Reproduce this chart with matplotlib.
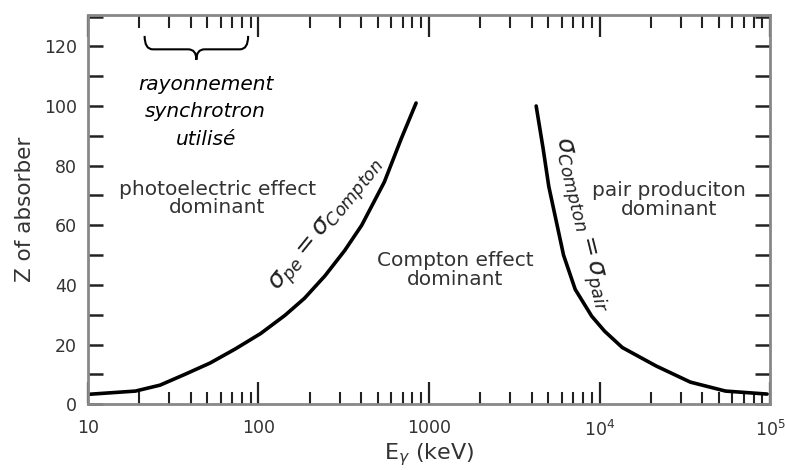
import numpy as np
import matplotlib.pyplot as plt
from matplotlib.path import Path
from matplotlib.patches import PathPatch
from matplotlib.transforms import blended_transform_factory
from matplotlib.ticker import FixedLocator, FixedFormatter, LogLocator, MultipleLocator

plt.rcParams['font.family'] = ['DejaVu Sans']
plt.rcParams['mathtext.fontset'] = 'dejavusans'

# boundary sigma_pe = sigma_Compton (energy in keV, Z)
pe_energy = [10, 19, 26.5, 37, 52, 73, 103, 143, 186, 245, 320, 403, 547, 687, 840]
pe_z = [3.3, 4.4, 6.4, 10, 13.8, 18.5, 23.7, 29.8, 35.5, 43, 51.5, 60, 74.5, 89, 101]

# boundary sigma_Compton = sigma_pair
pair_energy = [4250, 4660, 5040, 6150, 7200, 9000, 10700, 13600, 21500, 34100, 54800, 96000]
pair_z = [100, 86, 73, 50, 38.5, 29.5, 24.5, 19, 12.8, 7.4, 4.4, 3.4]

x_ticks = [10, 100, 1000, 1e4, 1e5]
x_ticklabels = ['10', '100', '1000', r'$10^4$', r'$10^5$']
y_ticks = [0, 20, 40, 60, 80, 100, 120]

# energy range used at the synchrotron (keV)
synchro_lo, synchro_hi = 21.5, 87

fig = plt.figure(figsize=(7.85, 4.7), dpi=100)
ax = fig.add_axes([0.112, 0.140, 0.869, 0.828])

ax.plot(pe_energy, pe_z, color='black', lw=2.6, solid_capstyle='round')
ax.plot(pair_energy, pair_z, color='black', lw=2.6, solid_capstyle='round')

ax.set_xscale('log')
ax.set_xlim(10, 1e5)
ax.set_ylim(0, 130.5)

ax.xaxis.set_major_locator(FixedLocator(x_ticks))
ax.xaxis.set_major_formatter(FixedFormatter(x_ticklabels))
ax.xaxis.set_minor_locator(LogLocator(base=10, subs=np.arange(2, 10)))
ax.yaxis.set_major_locator(FixedLocator(y_ticks))
ax.yaxis.set_minor_locator(MultipleLocator(10))

ax.tick_params(axis='x', which='major', direction='in', length=16, width=1.6,
               top=True, bottom=True, color='#222222', labelsize=12.5,
               labelcolor='#333333', pad=11)
ax.tick_params(axis='x', which='minor', direction='in', length=9, width=1.5,
               top=True, bottom=True, color='#222222')
ax.tick_params(axis='y', which='both', direction='in', length=11, width=1.8,
               left=True, right=True, color='#222222', labelsize=12.5,
               labelcolor='#333333', pad=8)
ax.xaxis.set_minor_formatter(FixedFormatter([]))

for sp in ax.spines.values():
    sp.set_color('#888888')
    sp.set_linewidth(2)

ax.set_xlabel(r'E$_\gamma$ (keV)', fontsize=16, color='#333333', labelpad=1)
ax.set_ylabel('Z of absorber', fontsize=15.5, color='#333333', labelpad=6)

# brace over the synchrotron range
trans = blended_transform_factory(ax.transAxes, ax.transData)
fa = (np.log10(synchro_lo) - 1) / 4
fb = (np.log10(synchro_hi) - 1) / 4
fm = (fa + fb) / 2
r = 0.012
top, mid, tip = 123.5, 119.0, 115.5
verts = [(fa, top), (fa, mid), (fa + r, mid), (fm - r, mid), (fm, mid), (fm, tip),
         (fm, mid), (fm + r, mid), (fb - r, mid), (fb, mid), (fb, top)]
codes = [Path.MOVETO, Path.CURVE3, Path.CURVE3, Path.LINETO, Path.CURVE3, Path.CURVE3,
         Path.CURVE3, Path.CURVE3, Path.LINETO, Path.CURVE3, Path.CURVE3]
ax.add_patch(PathPatch(Path(verts, codes), transform=trans, fill=False,
                       lw=1.5, edgecolor='black'))

ax.text(49, 98, 'rayonnement\nsynchrotron\nutilisé', style='italic', fontsize=14.5,
        ha='center', va='center', linespacing=1.55, color='black')

ax.text(57.5, 69, 'photoelectric effect\ndominant', fontsize=14.5, ha='center',
        va='center', linespacing=0.95, color='#333333')
ax.text(1430, 45, 'Compton effect\ndominant', fontsize=14.5, ha='center',
        va='center', linespacing=0.95, color='#333333')
ax.text(25500, 68.5, 'pair produciton\ndominant', fontsize=14.5, ha='center',
        va='center', linespacing=1.0, color='#333333')

ax.text(255, 60, r'$\sigma_{pe}=\sigma_{Compton}$', fontsize=18, rotation=51,
        ha='center', va='center', color='#222222')
ax.text(7760, 60, r'$\sigma_{Compton}=\sigma_{pair}$', fontsize=18, rotation=-76,
        ha='center', va='center', color='#222222')

fig.savefig('out.png', dpi=100)
